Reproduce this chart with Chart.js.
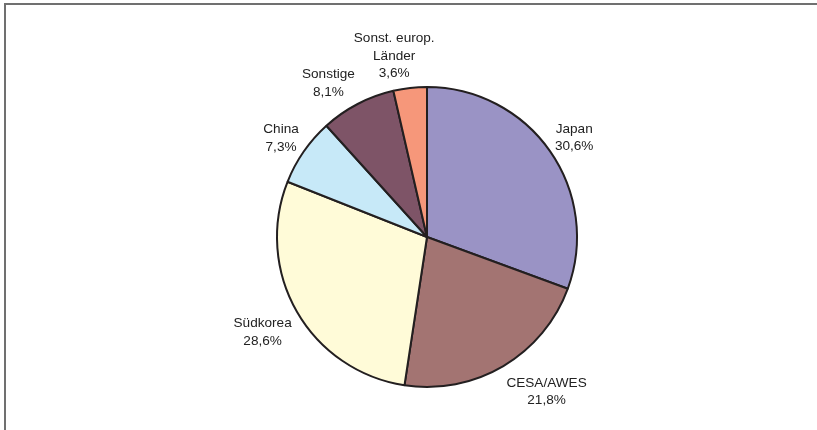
<!DOCTYPE html>
<html>
<head>
<meta charset="utf-8">
<script src="https://cdn.jsdelivr.net/npm/chart.js@4/dist/chart.umd.min.js"></script>
<style>
    html, body { margin: 0; padding: 0; background: #fff; }
    #wrap { position: relative; width: 817px; height: 430px; }
</style>
</head>
<body>
<div id="wrap"><canvas id="pie-chart" width="817" height="430"></canvas></div>
<script>
var categories = [ 'Japan', 'CESA/AWES', 'Südkorea', 'China', 'Sonstige', [ 'Sonst. europ.', 'Länder' ] ];
var shares = [ 30.6, 21.8, 28.6, 7.3, 8.1, 3.6 ];
var sliceColors = [ '#9a93c5', '#a37472', '#fffbd8', '#c7e9f8', '#7e5467', '#f6977a' ];

( function () {
    'use strict';

    var frame = {
        id: 'frame',
        beforeDraw: function ( chart ) {
            var ctx = chart.ctx;
            ctx.save();
            ctx.strokeStyle = '#707070';
            ctx.lineWidth = 2;
            ctx.beginPath();
            ctx.moveTo( 5, 430 );
            ctx.lineTo( 5, 4 );
            ctx.lineTo( 817, 4 );
            ctx.stroke();
            ctx.restore();
        }
    };

    // outside labels, roughly the way Excel places them
    var outsideLabels = {
        id: 'outsideLabels',
        afterDatasetsDraw: function ( chart ) {
            var ctx = chart.ctx;
            var meta = chart.getDatasetMeta( 0 );
            var lineH = 17.5;
            ctx.save();
            ctx.font = '13.6px "Liberation Sans", Arial, sans-serif';
            ctx.fillStyle = '#222';
            ctx.textAlign = 'center';
            ctx.textBaseline = 'middle';
            meta.data.forEach( function ( arc, i ) {
                var p = arc.getProps( [ 'x', 'y', 'startAngle', 'endAngle', 'outerRadius' ], true );
                var mid = ( p.startAngle + p.endAngle ) / 2;
                var dx = Math.cos( mid ), dy = Math.sin( mid );
                var r = p.outerRadius + 6;
                var ax = p.x + r * dx, ay = p.y + r * dy;
                var name = categories[ i ];
                var lines = ( Array.isArray( name ) ? name.slice() : [ name ] );
                lines.push( shares[ i ].toFixed( 1 ).replace( '.', ',' ) + '%' );
                var w = 0;
                lines.forEach( function ( l ) { w = Math.max( w, ctx.measureText( l ).width ); } );
                var h = lines.length * lineH;
                var fx = Math.max( -1, Math.min( 1, dx / 0.3 ) );
                var fy = dy < 0 ? dy : Math.min( 1, dy / 0.3 );
                var cx = ax + fx * w / 2;
                var cy = ay + fy * h / 2 + ( dy > 0.7 ? 3 : 0 );
                lines.forEach( function ( l, k ) {
                    ctx.fillText( l, cx, cy - h / 2 + lineH * ( k + 0.5 ) );
                } );
            } );
            ctx.restore();
        }
    };

    new Chart( document.getElementById( 'pie-chart' ), {
        type: 'pie',
        data: {
            labels: categories,
            datasets: [ {
                data: shares,
                backgroundColor: sliceColors,
                borderColor: '#231f20',
                borderWidth: 2,
                hoverOffset: 0
            } ]
        },
        options: {
            responsive: false,
            animation: false,
            layout: { padding: { top: 86, bottom: 42, left: 37, right: 0 } },
            plugins: {
                legend: { display: false },
                tooltip: { enabled: false }
            }
        },
        plugins: [ frame, outsideLabels ]
    } );
} )();
</script>
</body>
</html>
